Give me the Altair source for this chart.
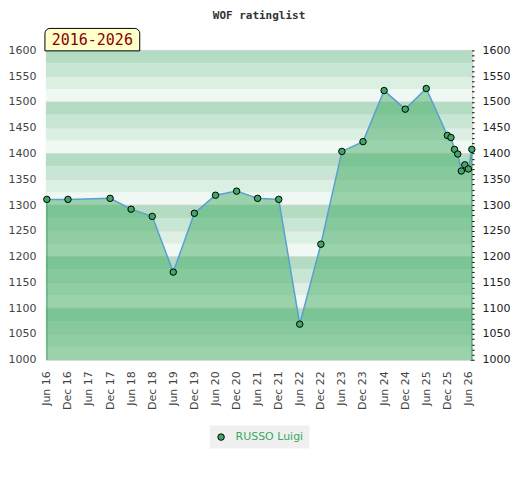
import altair as alt
import pandas as pd

TITLE = "WOF ratinglist"
PERIOD = "2016-2026"
PLAYER = "RUSSO Luigi"

DATES = [
    "2016-06-01", "2016-12-01", "2017-12-01", "2018-06-01", "2018-12-01",
    "2019-06-01", "2019-12-01", "2020-06-01", "2020-12-01", "2021-06-01",
    "2021-12-01", "2022-06-01", "2022-12-01", "2023-06-01", "2023-12-01",
    "2024-06-01", "2024-12-01", "2025-06-01", "2025-12-01", "2026-01-01",
    "2026-02-01", "2026-03-01", "2026-04-01", "2026-05-01", "2026-06-01",
    "2026-07-01",
]
RATINGS = [
    1311, 1311, 1313, 1292, 1278,
    1170, 1284, 1319, 1327, 1313,
    1311, 1069, 1224, 1404, 1423,
    1522, 1486, 1526, 1435, 1431,
    1408, 1399, 1366, 1378, 1370,
    1408,
]

Y_MIN, Y_MAX = 1000, 1600
Y_TICKS = [1000, 1050, 1100, 1150, 1200, 1250, 1300, 1350, 1400, 1450, 1500, 1550, 1600]
X_TICKS = [
    (2016, 6), (2016, 12), (2017, 6), (2017, 12), (2018, 6), (2018, 12),
    (2019, 6), (2019, 12), (2020, 6), (2020, 12), (2021, 6), (2021, 12),
    (2022, 6), (2022, 12), (2023, 6), (2023, 12), (2024, 6), (2024, 12),
    (2025, 6), (2025, 12), (2026, 6),
]
X_START = (2016, 5, 24)
X_END = (2026, 7, 3)

# colours
STRIPE_SHADES = ["#eff8f2", "#dcefe3", "#c8e6d4", "#b3dcc3"]
AREA_GREEN = "#43ab64"
POINT_GREEN = "#3fa865"
EDGE_GREEN = "#3c9f5c"
LINE_BLUE = "#5a9fd4"

df = pd.DataFrame({"date": DATES, "rating": RATINGS, "player": PLAYER})
edges = df.iloc[[0, len(df) - 1]]

stripes = []
lo = Y_MIN
while lo < Y_MAX:
    stripes.append({"lo": lo, "hi": lo + 25,
                    "shade": STRIPE_SHADES[((lo - Y_MIN) // 25) % 4]})
    lo += 25
stripes_df = pd.DataFrame(stripes)
grid_df = pd.DataFrame({"v": Y_TICKS})
label_df = pd.DataFrame({"period": [PERIOD]})


def dt(ymd):
    day = ymd[2] if len(ymd) > 2 else 1
    return alt.DateTime(year=ymd[0], month=ymd[1], date=day, utc=True)


X_SCALE = alt.Scale(type="utc", domain=[dt(X_START), dt(X_END)])
X_AXIS = alt.Axis(
    values=[dt(t) for t in X_TICKS],
    labelExpr="utcFormat(datum.value, '%b %y')",
    labelAngle=270, ticks=False, domain=False, grid=False,
    labelFont="DejaVu Sans", labelFontSize=11, labelColor="#444444",
    labelPadding=11, labelOverlap=False, labelFlush=False,
)
X_ENC = alt.X("date:T", scale=X_SCALE, axis=X_AXIS, title=None)

Y_SCALE = alt.Scale(domain=[Y_MIN, Y_MAX], nice=False, zero=False)
LEFT_AXIS = alt.Axis(
    orient="left", values=Y_TICKS, format="d", ticks=False, domain=False,
    grid=False, labelFont="DejaVu Sans", labelFontSize=11,
    labelColor="#444444", labelPadding=10, labelFlush=False,
    labelOverlap=False,
)
RIGHT_AXIS = alt.Axis(
    orient="right", values=list(range(Y_MIN, Y_MAX + 1, 10)), format="d",
    labelExpr="datum.value % 50 === 0 ? datum.label : ''",
    ticks=True, tickSize=4, tickColor="#000000", tickWidth=1, offset=-2,
    domain=False, grid=False, labelFont="DejaVu Sans", labelFontSize=11,
    labelColor="#222222", labelPadding=8, labelFlush=False,
    labelOverlap=False,
)

stripe_layer = alt.Chart(stripes_df).mark_rect().encode(
    y=alt.Y("lo:Q", scale=Y_SCALE, axis=LEFT_AXIS, title=None),
    y2="hi:Q",
    fill=alt.Fill("shade:N", scale=None),
)

grid_layer = alt.Chart(grid_df).mark_rule(
    color="#d4d4d4", strokeWidth=1, opacity=0.8
).encode(y=alt.Y("v:Q", scale=Y_SCALE, axis=None))

area_layer = alt.Chart(df).mark_area(
    color=AREA_GREEN, opacity=0.5
).encode(
    x=X_ENC,
    y=alt.Y("rating:Q", scale=Y_SCALE, axis=None),
    y2=alt.datum(Y_MIN),
)

edge_layer = alt.Chart(edges).mark_rule(
    color=EDGE_GREEN, strokeWidth=1
).encode(
    x=X_ENC,
    y=alt.Y("rating:Q", scale=Y_SCALE, axis=None),
    y2=alt.datum(Y_MIN),
)

line_layer = alt.Chart(df).mark_line(
    color=LINE_BLUE, strokeWidth=1.5
).encode(
    x=X_ENC,
    y=alt.Y("rating:Q", scale=Y_SCALE, axis=RIGHT_AXIS, title=None),
)

point_layer = alt.Chart(df).mark_point(
    filled=True, stroke="#000000", strokeWidth=1, size=42, opacity=1
).encode(
    x=X_ENC,
    y=alt.Y("rating:Q", scale=Y_SCALE, axis=None),
    color=alt.Color(
        "player:N", scale=alt.Scale(range=[POINT_GREEN]),
        legend=alt.Legend(
            title=None, orient="none", legendX=164, legendY=376,
            fillColor="#f0f0f0", padding=6, labelColor="#3aa860",
            labelFont="DejaVu Sans", labelFontSize=11, labelOffset=9,
            symbolType="circle", symbolSize=42, symbolStrokeColor="#000000",
            symbolStrokeWidth=1, symbolOpacity=1,
        ),
    ),
)

box_layer = alt.Chart(label_df).mark_rect(
    fill="#ffffcc", stroke="#000000", strokeWidth=1,
    cornerRadiusTopLeft=5, cornerRadiusTopRight=5,
).encode(
    x=alt.value(-1), x2=alt.value(94), y=alt.value(-22), y2=alt.value(0.5)
)

box_text = alt.Chart(label_df).mark_text(
    font="DejaVu Sans Mono", fontSize=15, color="#8b0000",
    align="center", baseline="middle",
).encode(x=alt.value(46.5), y=alt.value(-10), text="period:N")

chart = alt.layer(
    stripe_layer, grid_layer, area_layer, edge_layer, line_layer,
    point_layer, box_layer, box_text,
).resolve_axis(y="independent").properties(
    width=427, height=310,
    autosize=alt.AutoSizeParams(type="none"),
    padding={"left": 38, "top": 42, "right": 40, "bottom": 100},
    title=alt.TitleParams(
        text=TITLE, font="DejaVu Sans Mono", fontSize=11,
        fontWeight="bold", color="#333333", anchor="middle", offset=7,
    ),
).configure_view(stroke="#d0d0d0", strokeWidth=1)

chart.save("out.html", embed_options={"renderer": "svg", "actions": False})
